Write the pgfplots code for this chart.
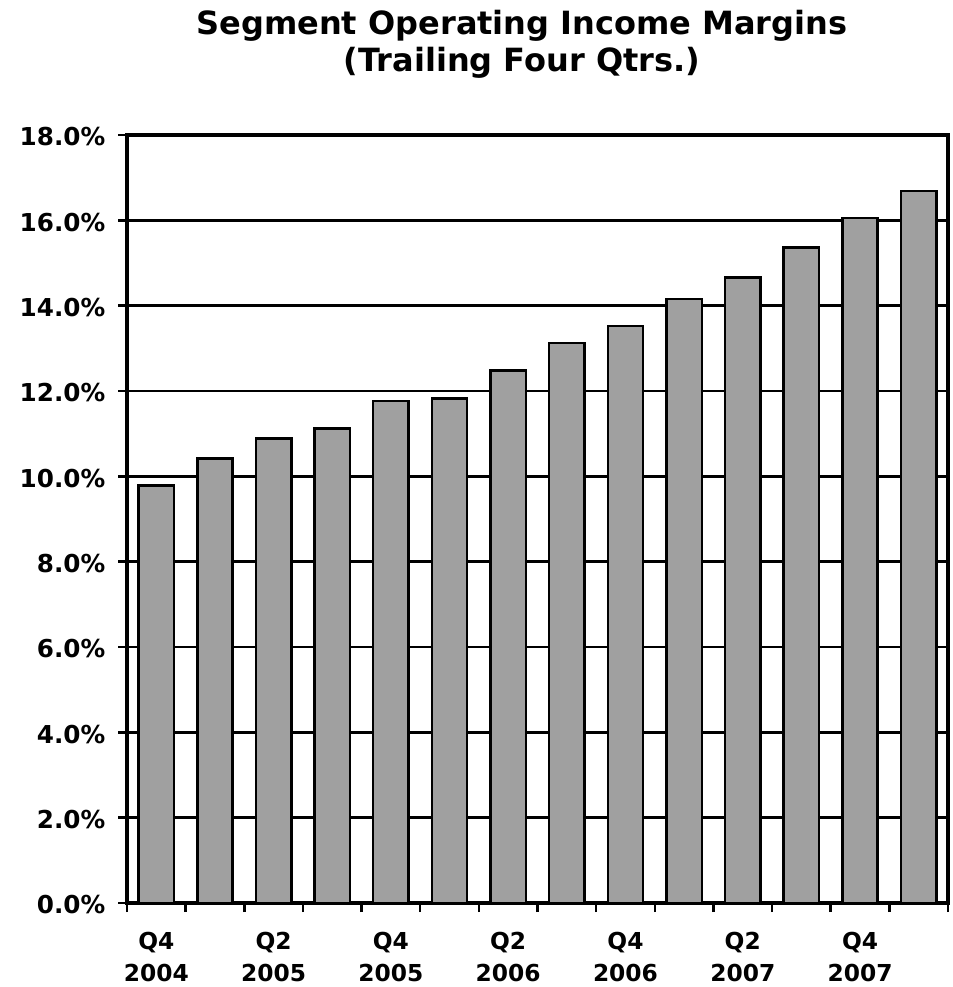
\documentclass[border=0pt]{standalone}
\usepackage{fontspec}
\setmainfont{DejaVu Sans}
\usepackage{pgfplots}
\pgfplotsset{compat=1.18}
\definecolor{bargray}{RGB}{160,160,160}
\begin{document}
\begin{tikzpicture}[x=0.75pt,y=0.75pt]
\begin{axis}[
  at={(0,0)}, anchor=south west,
  scale only axis, width=615.75pt, height=576pt,
  ybar, bar width=26.5pt,
  xmin=-0.5, xmax=13.5, ymin=0, ymax=18,
  ytick={0,2,...,18},
  ymajorgrids, grid style={black, line width=1.9pt},
  axis line style={black, line width=2.3pt},
  tick style={black, line width=1.9pt},
  tick align=outside,
  ytick pos=left, xtick pos=bottom,
  major tick length=6.75pt,
  xtick={-0.5,0.5,...,13.5},
  xticklabels={},
  extra x ticks={0,2,4,6,8,10,12},
  extra x tick labels={{Q4\\2004},{Q2\\2005},{Q4\\2005},{Q2\\2006},{Q4\\2006},{Q2\\2007},{Q4\\2007}},
  extra x tick style={major tick length=0pt, grid=none,
    xticklabel style={align=center, font=\fontsize{17.5}{24}\selectfont\bfseries, yshift=-18pt}},
  xticklabel style={align=center, font=\fontsize{17.5}{24}\selectfont\bfseries},
  yticklabel={\pgfmathprintnumber[fixed,fixed zerofill,precision=1]{\tick}\%},
  /pgf/number format/assume math mode=true,
  yticklabel style={font=\fontsize{18.5}{22}\selectfont\bfseries, xshift=-6pt, yshift=-1.5pt},
]
\addplot[fill=bargray, draw=black, line width=1.9pt] coordinates {
(0,9.78) (1,10.42) (2,10.89) (3,11.12) (4,11.76) (5,11.83) (6,12.48)
(7,13.12) (8,13.52) (9,14.16) (10,14.66) (11,15.36) (12,16.05) (13,16.69)
};
\end{axis}
\node[anchor=base, font=\fontsize{24}{28}\selectfont\bfseries] at (395,868) {Segment Operating Income Margins};
\node[anchor=base, font=\fontsize{24}{28}\selectfont\bfseries] at (395,831) {(Trailing Four Qtrs.)};
\path[use as bounding box] (-127,-84) rectangle (825,903);
\end{tikzpicture}
\end{document}
